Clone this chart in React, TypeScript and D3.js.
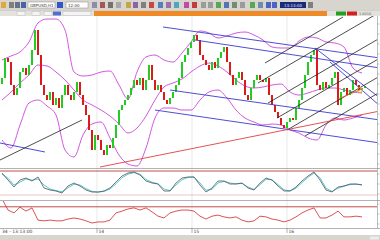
import React from "react";
import * as d3 from "d3";

// ---------- DATA ----------
const closes = [
  1.6050, 1.6150, 1.6130, 1.6015, 1.5965, 1.6000, 1.6080, 1.6100, 1.6065, 1.6115,
  1.6190, 1.6290, 1.6165, 1.6015, 1.5965, 1.5940, 1.5980, 1.5915, 1.5950, 1.5900,
  1.5965, 1.6015, 1.5965, 1.5940, 1.5980, 1.6030, 1.5965, 1.5915, 1.5865, 1.5790,
  1.5690, 1.5765, 1.5740, 1.5690, 1.5665, 1.5715, 1.5700, 1.5750, 1.5815, 1.5890,
  1.5915, 1.5940, 1.5965, 1.6000, 1.6040, 1.6015, 1.6050, 1.5990, 1.6040, 1.6115,
  1.6040, 1.5990, 1.6015, 1.5980, 1.5940, 1.5920, 1.5950, 1.5980, 1.6015, 1.6050,
  1.6130, 1.6165, 1.6200, 1.6230, 1.6265, 1.6240, 1.6165, 1.6140, 1.6115, 1.6090,
  1.6130, 1.6100, 1.6150, 1.6180, 1.6205, 1.6130, 1.6065, 1.6015, 1.6050, 1.6080,
  1.6040, 1.5965, 1.5940, 1.6000, 1.6040, 1.6065, 1.6040, 1.6030, 1.6050, 1.5965,
  1.5915, 1.5880, 1.5850, 1.5815, 1.5800, 1.5830, 1.5850, 1.5840, 1.5900, 1.5940,
  1.6000, 1.6065, 1.6130, 1.6165, 1.6190, 1.6015, 1.5990, 1.6030, 1.6000, 1.6015,
  1.6050, 1.6080, 1.5915, 1.5980, 1.6000, 1.5965, 1.5990, 1.6040, 1.6015, 1.5990,
  1.6000, 1.6010,
];
const firstOpen = 1.6020;

// Bollinger band values, one every 3 candles
const bandStep = 3;
const bbUpper = [
  1.6140, 1.6160, 1.6180, 1.6230, 1.6325, 1.6345, 1.6345, 1.6290, 1.6080, 1.6060,
  1.6065, 1.6080, 1.6085, 1.6015, 1.5945, 1.6080, 1.6155, 1.6165, 1.6140, 1.6130,
  1.6175, 1.6230, 1.6285, 1.6275, 1.6250, 1.6260, 1.6275, 1.6280, 1.6265, 1.6240,
  1.6205, 1.6200, 1.6200, 1.6235, 1.6255, 1.6250, 1.6230, 1.6225, 1.6205, 1.6100,
  1.6075,
];
const bbMiddle = [
  1.5940, 1.5980, 1.6025, 1.6065, 1.6115, 1.6110, 1.6080, 1.6040, 1.5990, 1.5940,
  1.5915, 1.5890, 1.5860, 1.5820, 1.5775, 1.5800, 1.5860, 1.5940, 1.6005, 1.6025,
  1.6045, 1.6080, 1.6110, 1.6125, 1.6110, 1.6080, 1.6040, 1.6010, 1.6000, 1.6005,
  1.6015, 1.6020, 1.5980, 1.5965, 1.5975, 1.5990, 1.6000, 1.6000, 1.5990, 1.5980,
  1.5975,
];
const bbLower = [
  1.5740, 1.5700, 1.5815, 1.5925, 1.5940, 1.5910, 1.5865, 1.5690, 1.5655, 1.5765,
  1.5820, 1.5830, 1.5750, 1.5665, 1.5620, 1.5610, 1.5700, 1.5850, 1.5900, 1.5900,
  1.5890, 1.5890, 1.5940, 1.5980, 1.5990, 1.5950, 1.5890, 1.5850, 1.5830, 1.5815,
  1.5820, 1.5815, 1.5790, 1.5775, 1.5750, 1.5740, 1.5815, 1.5850, 1.5840, 1.5850,
  1.5865,
];

// Oscillators, one value every 2 candles
const oscStep = 2;
const stochMain = [
  75, 57.5, 40, 57.5, 62.5, 55, 65, 37.5, 32.5, 30, 25, 42.5, 50, 42.5, 32.5, 27.5,
  27.5, 30, 37.5, 52.5, 67.5, 75, 77.5, 70, 55, 50, 47.5, 30, 30, 50, 62.5, 65, 65,
  45, 27.5, 37.5, 55, 55, 47.5, 47.5, 50, 37.5, 32.5, 50, 62.5, 57.5, 42.5, 30, 30,
  40, 55, 67.5, 77.5, 57.5, 32.5, 27.5, 40, 42.5, 47.5, 47.5, 45,
];
const stochSignal = [
  72, 62, 45, 52, 60, 57, 60, 45, 35, 31, 28, 38, 47, 45, 36, 29, 27, 29, 35, 48,
  63, 72, 76, 72, 59, 52, 48, 35, 31, 45, 58, 64, 65, 50, 32, 34, 50, 54, 50, 48,
  49, 40, 34, 46, 59, 58, 46, 33, 30, 37, 51, 64, 75, 63, 37, 29, 37, 42, 46, 47, 46,
];
const rsiValues = [
  92, 61, 53, 69, 58, 67, 33, 31, 33, 31, 31, 36, 39, 36, 31, 25, 28, 28, 33, 53,
  58, 64, 67, 61, 67, 56, 44, 39, 53, 58, 61, 61, 58, 44, 36, 44, 47, 42, 39, 42,
  33, 28, 31, 44, 42, 36, 33, 28, 33, 42, 53, 61, 67, 39, 39, 47, 58, 42, 42, 44, 42,
];
const stochLevels = [80, 20];
const rsiLevels = [70];

// Drawn objects: [index1, price1, index2, price2]
const blueLines = [
  [53.67, 1.6305, 126, 1.6150],
  [64.33, 1.6240, 126, 1.6100],
  [56, 1.5990, 126, 1.5840],
  [51, 1.5890, 126, 1.5725],
  [-0.67, 1.5725, 14.33, 1.5680],
  [104.33, 1.6200, 126, 1.5950],
  [109.33, 1.6130, 126, 1.5910],
];
const blackLines = [
  [-0.67, 1.5640, 26.67, 1.5840],
  [87.67, 1.6125, 113.67, 1.6355],
  [85.33, 1.6025, 126, 1.6380],
  [88.67, 1.5925, 126, 1.6250],
  [91.67, 1.5850, 126, 1.6150],
  [95, 1.5790, 126, 1.6060],
  [101, 1.5760, 126, 1.5980],
];
const redLines = [[32.67, 1.5605, 126, 1.5885]];
const orangeLines = [[112, 1.5945, 120, 1.5995]];
const markerPoint = [119.3, 1.5990];

const dayTickIdx = [31.67, 63.33, 95];
const dayLabels = ["14", "15", "16"];
const startLabel = "34 - 13:13:00";

// ---------- LAYOUT ----------
const W = 380;
const H = 240;
const MAIN_TOP = 16;
const MAIN_BOT = 168;
const P1_TOP = 169;
const P1_BOT = 200;
const P2_TOP = 201;
const P2_BOT = 228;
const RIGHT = 377;

const x = d3.scaleLinear().domain([0, closes.length - 1]).range([2, 365]);
const yMain = d3.scaleLinear().domain([1.56, 1.636]).range([MAIN_BOT, MAIN_TOP]);
const yOsc1 = d3.scaleLinear().domain([0, 100]).range([203, 163]);
const yOsc2 = d3.scaleLinear().domain([0, 100]).range([232, 196]);

const FONT = "DejaVu Sans, sans-serif";

export default function App() {
  const bandLine = d3
    .line<number>()
    .x((_, i) => x(i * bandStep))
    .y((d) => yMain(d))
    .curve(d3.curveMonotoneX);
  const osc1Line = d3
    .line<number>()
    .x((_, i) => x(i * oscStep))
    .y((d) => yOsc1(d));
  const osc2Line = d3
    .line<number>()
    .x((_, i) => x(i * oscStep))
    .y((d) => yOsc2(d));

  const candles = closes.map((c, i) => {
    const o = i === 0 ? firstOpen : closes[i - 1];
    return { i, o, c };
  });

  const seg = (l: number[], color: string, key: string, w = 0.9) => (
    <line
      key={key}
      x1={x(l[0])}
      y1={yMain(l[1])}
      x2={x(l[2])}
      y2={yMain(l[3])}
      stroke={color}
      strokeWidth={w}
    />
  );

  const toolbarIcons = [
    { x: 1, c: "#e0a020" }, { x: 9, c: "#707070" }, { x: 15, c: "#506080" },
    { x: 21, c: "#3050a0" }, { x: 92, c: "#8080a0" }, { x: 100, c: "#a04040" },
    { x: 108, c: "#606060" }, { x: 116, c: "#a0a0a0" }, { x: 126, c: "#c0a030" },
    { x: 133, c: "#8050a0" }, { x: 141, c: "#707070" }, { x: 149, c: "#c03030" },
    { x: 158, c: "#4070c0" }, { x: 166, c: "#9060a0" }, { x: 174, c: "#30a0c0" },
    { x: 184, c: "#c030a0" }, { x: 192, c: "#c02020" }, { x: 201, c: "#909090" },
    { x: 208, c: "#909090" }, { x: 216, c: "#40a040" }, { x: 224, c: "#4060b0" },
    { x: 232, c: "#608060" }, { x: 240, c: "#909090" }, { x: 250, c: "#40a040" },
    { x: 258, c: "#6080a0" }, { x: 266, c: "#3050c0" }, { x: 272, c: "#3050c0" },
    { x: 308, c: "#707070" },
  ];

  return (
    <svg
      width={W}
      height={H}
      style={{ position: "fixed", left: 0, top: 0, background: "#ffffff" }}
      fontFamily={FONT}
    >
      <defs>
        <clipPath id="mainClip">
          <rect x={0} y={MAIN_TOP} width={RIGHT} height={MAIN_BOT - MAIN_TOP} />
        </clipPath>
        <clipPath id="p1Clip">
          <rect x={0} y={P1_TOP} width={RIGHT} height={P1_BOT - P1_TOP} />
        </clipPath>
        <clipPath id="p2Clip">
          <rect x={0} y={P2_TOP} width={RIGHT} height={P2_BOT - P2_TOP} />
        </clipPath>
      </defs>

      {/* toolbar */}
      <rect x={0} y={0} width={W} height={10} fill="#d8d5cf" />
      {toolbarIcons.map((t, k) => (
        <rect key={"ic" + k} x={t.x} y={2} width={5} height={6} fill={t.c} opacity={0.85} />
      ))}
      <rect x={28} y={2} width={27} height={6} fill="#fff" stroke="#909090" strokeWidth={0.5} />
      <text x={30} y={6.8} fontSize={4} fill="#404040">GBPUSD,H1</text>
      <rect x={57} y={2} width={6} height={6} fill="#3355cc" />
      <rect x={66} y={2} width={22} height={6} fill="#fff" stroke="#909090" strokeWidth={0.5} />
      <text x={68} y={6.8} fontSize={4} fill="#404040">12:00</text>
      <rect x={280} y={2} width={26} height={6} fill="#1a2a7a" />
      <text x={284} y={6.8} fontSize={4} fill="#e0e0ff">13:13:00</text>
      <line x1={0} y1={10.5} x2={W} y2={10.5} stroke="#a0a0a0" strokeWidth={0.5} />

      {/* tab strip */}
      <rect x={0} y={11} width={W} height={5} fill="#e4e2dc" />
      {[17, 32, 44, 63].map((tx, k) => (
        <rect key={"tab" + k} x={tx} y={11.5} width={k === 3 ? 28 : 8} height={4} fill="#f4f4f4" stroke="#b0b0b0" strokeWidth={0.4} />
      ))}
      <rect x={53} y={11.5} width={8} height={4} fill="#5070d0" />
      <rect x={94} y={11} width={233} height={5} fill="#f08a24" />
      <rect x={336} y={11.5} width={10} height={4} fill="#22a022" />
      <rect x={347} y={11.5} width={10} height={4} fill="#d02020" />
      <text x={359} y={15} fontSize={3.5} fill="#606060">1.6010</text>

      {/* panels background */}
      <rect x={0} y={MAIN_TOP} width={W} height={MAIN_BOT - MAIN_TOP} fill="#fff" />
      <rect x={0} y={P1_TOP} width={W} height={P1_BOT - P1_TOP} fill="#fff" />
      <rect x={0} y={P2_TOP} width={W} height={P2_BOT - P2_TOP} fill="#fff" />

      {/* vertical day grid */}
      {dayTickIdx.map((d, k) => (
        <line key={"vg" + k} x1={x(d)} x2={x(d)} y1={MAIN_TOP} y2={P2_BOT} stroke="#d8d8d8" strokeWidth={0.6} />
      ))}

      {/* main chart */}
      <g clipPath="url(#mainClip)">
        <path d={bandLine(bbUpper) || ""} fill="none" stroke="#cc44dd" strokeWidth={0.9} />
        <path d={bandLine(bbMiddle) || ""} fill="none" stroke="#cc44dd" strokeWidth={0.9} />
        <path d={bandLine(bbLower) || ""} fill="none" stroke="#cc44dd" strokeWidth={0.9} />
        {candles.map((d) => {
          const up = d.c >= d.o;
          const y1 = yMain(Math.max(d.o, d.c));
          const y2 = yMain(Math.min(d.o, d.c));
          return (
            <rect
              key={"c" + d.i}
              x={x(d.i) - 1}
              y={y1}
              width={2}
              height={Math.max(1, y2 - y1)}
              fill={up ? "#22cc22" : "#dd1a1a"}
            />
          );
        })}
        {blueLines.map((l, k) => seg(l, "#3a3ad0", "bl" + k))}
        {blackLines.map((l, k) => seg(l, "#202020", "kl" + k, 0.8))}
        {redLines.map((l, k) => seg(l, "#e04040", "rl" + k))}
        {orangeLines.map((l, k) => seg(l, "#d07020", "ol" + k))}
        <circle cx={x(markerPoint[0])} cy={yMain(markerPoint[1])} r={2.5} fill="none" stroke="#d0b020" strokeWidth={1} />
      </g>

      {/* panel 1 */}
      <g clipPath="url(#p1Clip)">
        {stochLevels.map((lv, k) => (
          <line key={"sl" + k} x1={0} x2={RIGHT} y1={yOsc1(lv)} y2={yOsc1(lv)} stroke={k === 0 ? "#b83a3a" : "#e0b0b0"} strokeWidth={k === 0 ? 0.9 : 0.7} />
        ))}
        <path d={osc1Line(stochSignal) || ""} fill="none" stroke="#40c8c8" strokeWidth={0.9} />
        <path d={osc1Line(stochMain) || ""} fill="none" stroke="#505060" strokeWidth={0.8} />
      </g>

      {/* panel 2 */}
      <g clipPath="url(#p2Clip)">
        {rsiLevels.map((lv, k) => (
          <line key={"rl" + k} x1={0} x2={RIGHT} y1={yOsc2(lv)} y2={yOsc2(lv)} stroke="#b83a3a" strokeWidth={0.9} />
        ))}
        <path d={osc2Line(rsiValues) || ""} fill="none" stroke="#d02828" strokeWidth={0.8} />
      </g>

      {/* separators */}
      <line x1={0} x2={W} y1={MAIN_BOT + 0.5} y2={MAIN_BOT + 0.5} stroke="#909090" strokeWidth={0.7} />
      <line x1={0} x2={W} y1={P1_BOT + 0.5} y2={P1_BOT + 0.5} stroke="#909090" strokeWidth={0.7} />
      <line x1={0} x2={W} y1={P2_BOT + 0.5} y2={P2_BOT + 0.5} stroke="#909090" strokeWidth={0.7} />
      <line x1={RIGHT + 0.5} x2={RIGHT + 0.5} y1={MAIN_TOP} y2={P2_BOT} stroke="#909090" strokeWidth={0.6} />
      {d3.range(MAIN_TOP + 8, P2_BOT, 10).map((ty, k) => (
        <line key={"rt" + k} x1={RIGHT} x2={RIGHT + 2.5} y1={ty} y2={ty} stroke="#909090" strokeWidth={0.5} />
      ))}

      {/* time axis */}
      <rect x={0} y={P2_BOT + 1} width={W} height={6} fill="#fff" />
      <text x={2} y={233} fontSize={4.5} fill="#404040">{startLabel}</text>
      {dayTickIdx.map((d, k) => (
        <g key={"dt" + k}>
          <line x1={x(d)} x2={x(d)} y1={P2_BOT} y2={P2_BOT + 5} stroke="#606060" strokeWidth={0.5} />
          <text x={x(d) + 1.5} y={233} fontSize={4.5} fill="#404040">{dayLabels[k]}</text>
        </g>
      ))}
      <rect x={0} y={235} width={W} height={5} fill="#d8d5cf" />
      <rect x={370} y={236.5} width={9} height={3} fill="#ececec" />
    </svg>
  );
}
